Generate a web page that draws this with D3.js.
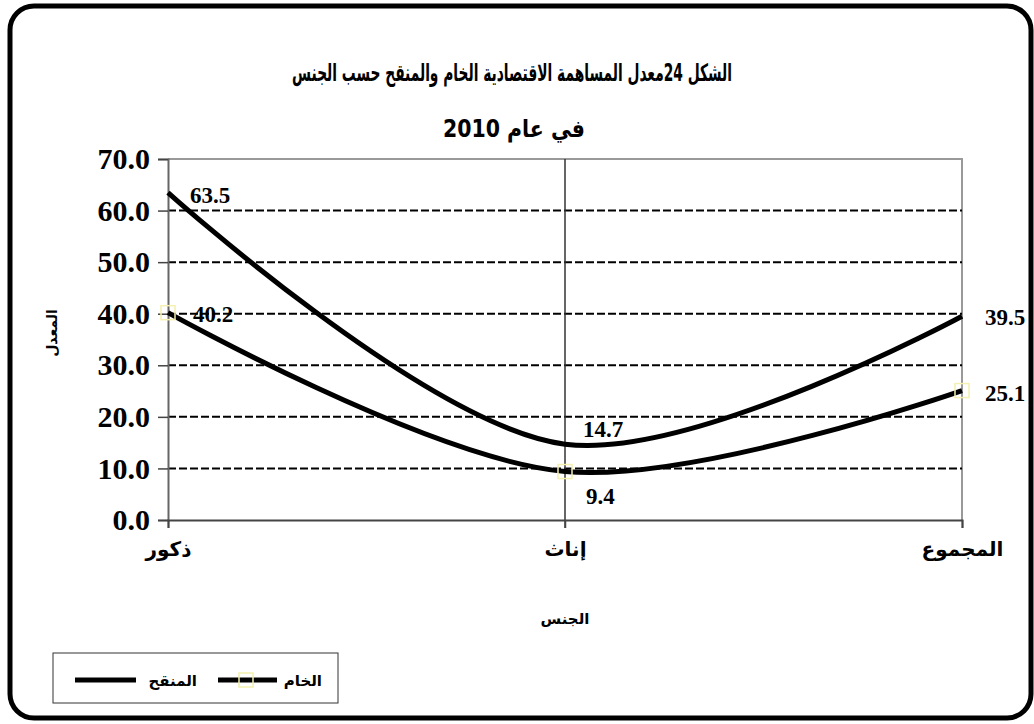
<!DOCTYPE html>
<html>
<head>
<meta charset="utf-8">
<script src="https://cdnjs.cloudflare.com/ajax/libs/d3/7.8.5/d3.min.js"></script>
<style>
  body { margin: 0; background: #fff; }
  text { font-family: "Liberation Serif", "DejaVu Sans", serif; }
  .ar { font-family: "DejaVu Sans", sans-serif; }
  .ttl { font-family: "DejaVu Sans Condensed", "DejaVu Sans", sans-serif; }
  .grid line { stroke: #000; stroke-width: 2; stroke-dasharray: 8,3; }
</style>
</head>
<body>
<script>
// chart data
var categories = ["ذكور", "إناث", "المجموع"];
var revised = [63.5, 14.7, 39.5];   // المنقح
var crude = [40.2, 9.4, 25.1];      // الخام
var yTicks = [0, 10, 20, 30, 40, 50, 60, 70];
var seriesNames = ["المنقح", "الخام"];

var W = 1034, H = 724;
var svg = d3.select("body").append("svg")
    .attr("width", W).attr("height", H);

// outer rounded frame
svg.append("rect")
    .attr("x", 10).attr("y", 6)
    .attr("width", 1021).attr("height", 712)
    .attr("rx", 24)
    .attr("fill", "#fff").attr("stroke", "#000").attr("stroke-width", 5);

var plot = {left: 168, right: 962, top: 159, bottom: 520};

var x = d3.scalePoint().domain(categories)
    .range([plot.left, plot.right]);
var y = d3.scaleLinear().domain([0, 70])
    .range([plot.bottom, plot.top]);

// title
svg.append("text").attr("class", "ttl")
    .attr("x", 512).attr("y", 81)
    .attr("text-anchor", "middle").attr("direction", "rtl")
    .attr("textLength", 440).attr("lengthAdjust", "spacingAndGlyphs")
    .style("font-size", "24px").style("font-weight", "bold")
    .text("الشكل 24معدل المساهمة الاقتصادية الخام والمنقح حسب الجنس");
svg.append("text").attr("class", "ttl")
    .attr("x", 514).attr("y", 137)
    .attr("text-anchor", "middle").attr("direction", "rtl")
    .attr("textLength", 142).attr("lengthAdjust", "spacingAndGlyphs")
    .style("font-size", "24px").style("font-weight", "bold")
    .text("في عام 2010");

// plot frame (top / right)
svg.append("path")
    .attr("d", "M" + plot.left + "," + plot.top + "H" + plot.right + "V" + plot.bottom)
    .attr("fill", "none").attr("stroke", "#999").attr("stroke-width", 2);

// dashed gridlines
svg.append("g").attr("class", "grid")
  .selectAll("line")
  .data(yTicks.filter(function(d) { return d > 0 && d < 70; }))
  .enter().append("line")
    .attr("x1", plot.left).attr("x2", plot.right)
    .attr("y1", function(d) { return y(d); })
    .attr("y2", function(d) { return y(d); });

// middle category line
svg.append("line")
    .attr("x1", x(categories[1])).attr("x2", x(categories[1]))
    .attr("y1", plot.top).attr("y2", plot.bottom + 8)
    .attr("stroke", "#333").attr("stroke-width", 1.5);

// y axis
var yAxis = svg.append("g")
    .attr("transform", "translate(" + plot.left + ",0)")
    .call(d3.axisLeft(y).tickValues(yTicks).tickSize(10).tickPadding(8)
      .tickFormat(d3.format(".1f")));
yAxis.select(".domain").attr("stroke", "#666").attr("stroke-width", 2);
yAxis.selectAll(".tick line").attr("stroke", "#444").attr("stroke-width", 1.5);
yAxis.selectAll(".tick text")
    .style("font-family", "Liberation Serif").style("font-weight", "bold")
    .style("font-size", "30px").attr("fill", "#000");

// x axis
var xAxis = svg.append("g")
    .attr("transform", "translate(0," + plot.bottom + ")")
    .call(d3.axisBottom(x).tickSize(8).tickPadding(14));
xAxis.select(".domain").attr("stroke", "#444").attr("stroke-width", 2);
xAxis.selectAll(".tick line").attr("stroke", "#444").attr("stroke-width", 1.5);
xAxis.selectAll(".tick text")
    .attr("class", "ar")
    .style("font-size", "20px").style("font-weight", "bold")
    .attr("fill", "#000");

// axis titles
svg.append("text").attr("class", "ar")
    .attr("transform", "translate(57,333) rotate(-90)")
    .attr("text-anchor", "middle")
    .style("font-size", "14px").style("font-weight", "bold")
    .text("المعدل");
svg.append("text").attr("class", "ar")
    .attr("x", x(categories[1])).attr("y", 624)
    .attr("text-anchor", "middle")
    .style("font-size", "15px").style("font-weight", "bold")
    .text("الجنس");

// lines
var line = d3.line()
    .x(function(d, i) { return x(categories[i]); })
    .y(function(d) { return y(d); })
    .curve(d3.curveCatmullRom.alpha(0.5));

[revised, crude].forEach(function(s) {
  svg.append("path").datum(s)
      .attr("d", line)
      .attr("fill", "none").attr("stroke", "#000").attr("stroke-width", 5);
});

// markers for crude series
svg.selectAll(".mk").data(crude).enter().append("rect")
    .attr("class", "mk")
    .attr("x", function(d, i) { return x(categories[i]) - 7; })
    .attr("y", function(d) { return y(d) - 7; })
    .attr("width", 14).attr("height", 14)
    .attr("fill", "none").attr("stroke", "#f4f0b0").attr("stroke-width", 1.5);

// value labels
var labelOffsets = {
  revised: [[22, 10], [18, -7], [23, 9]],
  crude: [[25, 9], [21, 32], [23, 10]]
};
function addLabels(data, offs) {
  svg.append("g").selectAll("text").data(data).enter().append("text")
      .attr("x", function(d, i) { return x(categories[i]) + offs[i][0]; })
      .attr("y", function(d) { return y(d); })
      .attr("dy", function(d, i) { return offs[i][1]; })
      .style("font-family", "Liberation Serif").style("font-weight", "bold")
      .style("font-size", "23px")
      .text(function(d) { return d3.format(".1f")(d); });
}
addLabels(revised, labelOffsets.revised);
addLabels(crude, labelOffsets.crude);

// legend
var lg = svg.append("g");
lg.append("rect")
    .attr("x", 53).attr("y", 653).attr("width", 285).attr("height", 50)
    .attr("fill", "#fff").attr("stroke", "#333").attr("stroke-width", 1);
// الخام
lg.append("text").attr("class", "ar")
    .attr("x", 322).attr("y", 686).attr("text-anchor", "end")
    .style("font-size", "15px").style("font-weight", "bold")
    .text(seriesNames[1]);
lg.append("line").attr("x1", 218).attr("x2", 277).attr("y1", 680).attr("y2", 680)
    .attr("stroke", "#000").attr("stroke-width", 5);
lg.append("rect").attr("x", 239).attr("y", 673).attr("width", 14).attr("height", 14)
    .attr("fill", "none").attr("stroke", "#f4f0b0").attr("stroke-width", 1.5);
// المنقح
lg.append("text").attr("class", "ar")
    .attr("x", 197).attr("y", 686).attr("text-anchor", "end")
    .style("font-size", "15px").style("font-weight", "bold")
    .text(seriesNames[0]);
lg.append("line").attr("x1", 75).attr("x2", 136).attr("y1", 680).attr("y2", 680)
    .attr("stroke", "#000").attr("stroke-width", 5);
</script>
</body>
</html>
